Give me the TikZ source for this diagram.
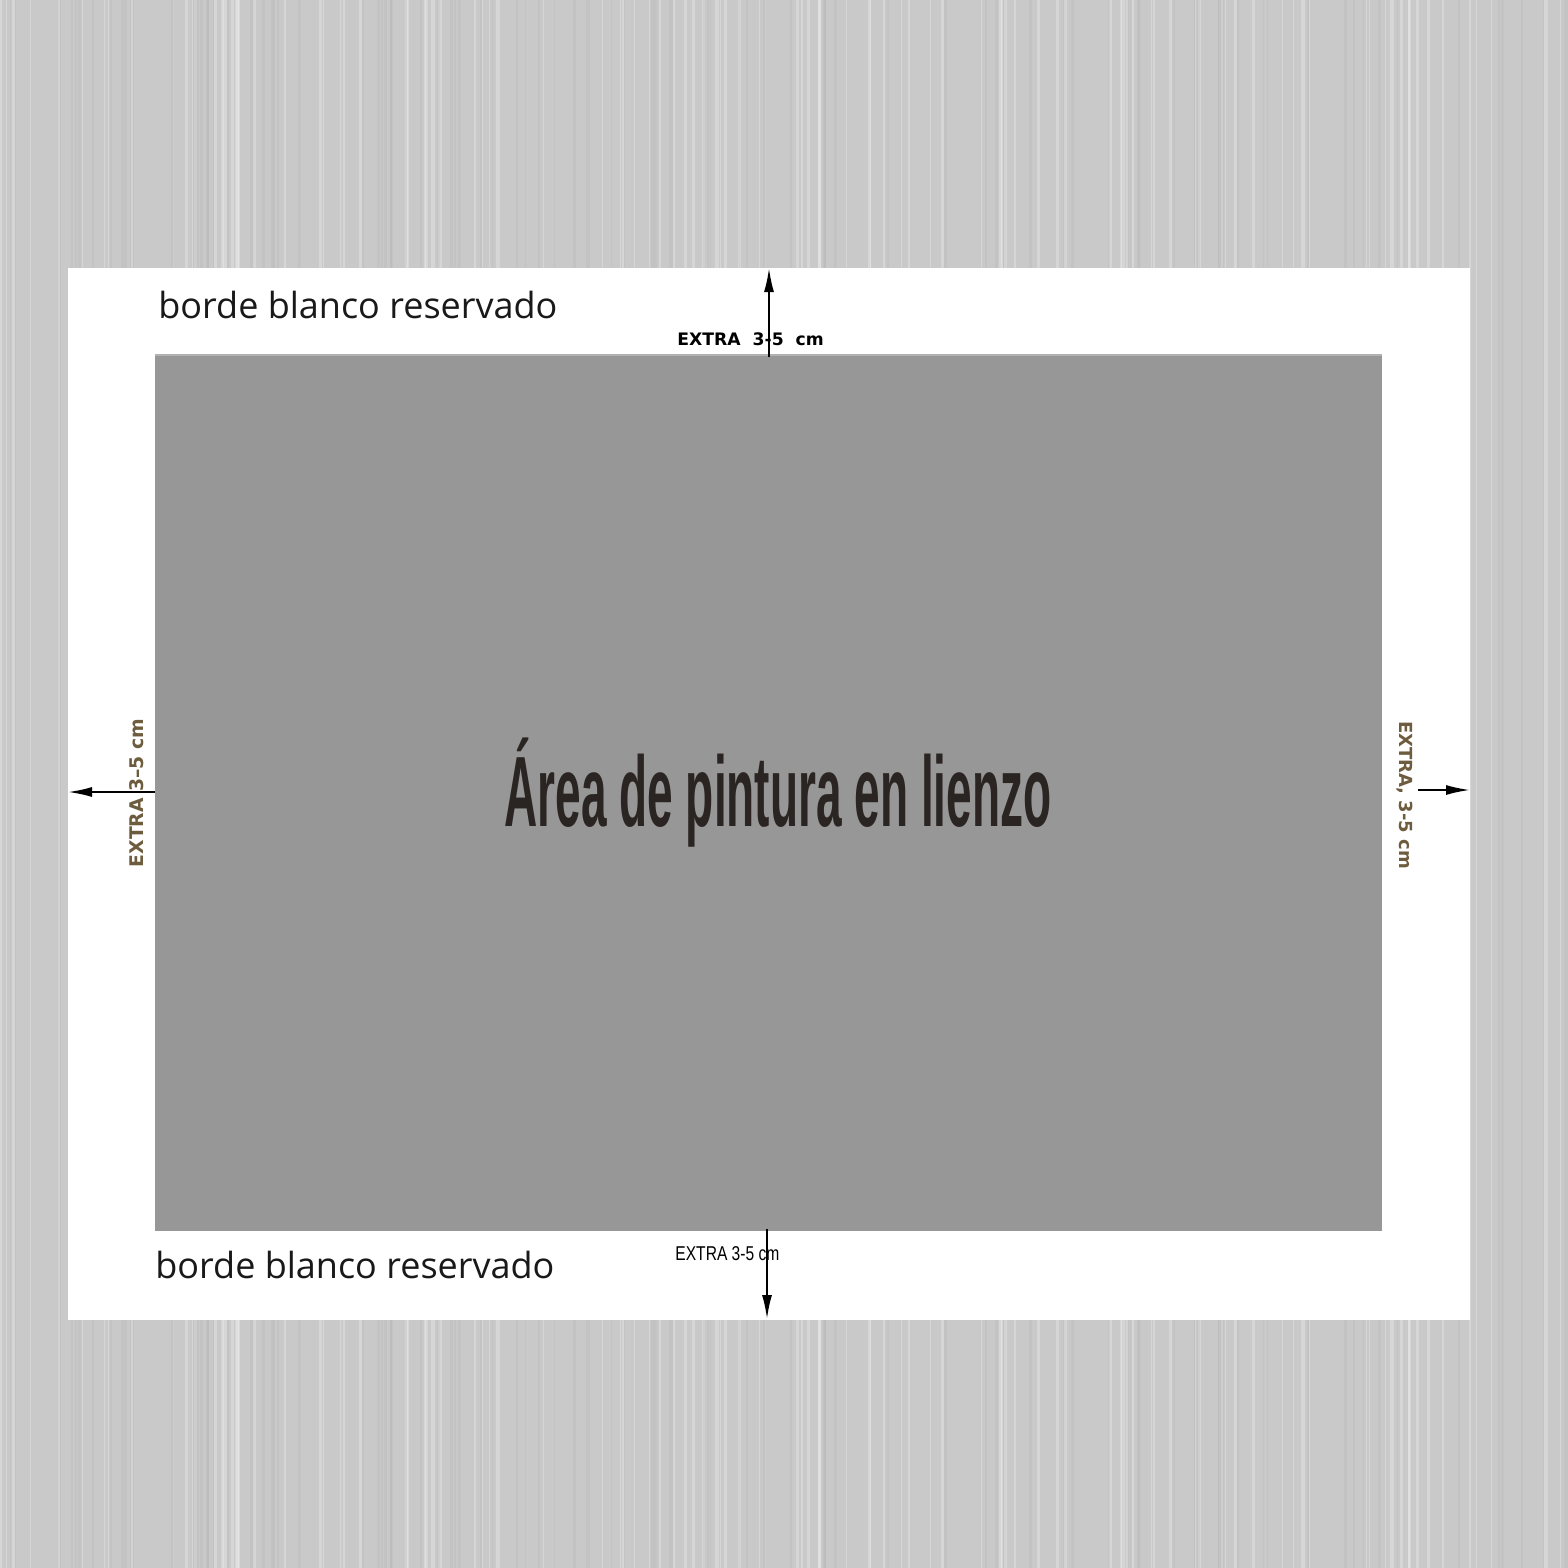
\documentclass[tikz,border=0pt]{standalone}
\usepackage{fontspec}
\setmainfont{Open Sans}
\newfontfamily\headfont{Liberation Sans}
\newfontfamily\djv{DejaVu Sans}
\usetikzlibrary{arrows.meta}
\definecolor{bgwood}{HTML}{C9C9C9}
\definecolor{paintgray}{HTML}{979797}
\definecolor{titleink}{HTML}{2A2522}
\definecolor{sidebrown}{HTML}{6E5C3E}
\tikzset{
  dimarrow/.style={draw=black, line width=1pt, -{Latex[length=12pt,width=5pt]}},
  bordertext/.style={font=\fontsize{18}{21}\selectfont, text=black!90, anchor=base west, inner sep=0pt},
  sidelabel/.style={font=\djv\bfseries\fontsize{9}{10}\selectfont, text=sidebrown, inner sep=0pt},
}
\begin{document}
\begin{tikzpicture}[x=0.5pt,y=-0.5pt]
\useasboundingbox (0,0) rectangle (1568,1568);
\fill[bgwood] (0,0) rectangle (1568,1568);
% wood streaks
\pgfmathsetseed{7}
\foreach \i in {1,...,220}{
  \pgfmathsetmacro{\xx}{rnd*1568}
  \pgfmathsetmacro{\gg}{rnd}
  \pgfmathsetmacro{\ww}{0.3+rnd*1.5}
  \ifdim\gg pt<0.5pt
    \draw[white, line width=\ww pt, opacity=0.25] (\xx,0) -- (\xx,1568);
  \else
    \draw[black!40, line width=\ww pt, opacity=0.12] (\xx,0) -- (\xx,1568);
  \fi
}
% white sheet
\fill[white] (68,268) rectangle (1470,1320);
% paint area
\fill[paintgray] (155,355) rectangle (1382,1231);
\draw[black!30, line width=0.6pt] (155,355) -- (1382,355);
% nodes
\node[font=\headfont\bfseries\fontsize{50}{56}\selectfont, text=titleink, inner sep=0pt] (title) at (778,793) {\scalebox{0.46}[1]{Área de pintura en lienzo}};
\node[bordertext] (topborder) at (158,318) {borde blanco reservado};
\node[bordertext] (botborder) at (155,1278) {borde blanco reservado};
\node[font=\djv\bfseries\fontsize{8.6}{10}\selectfont, inner sep=0pt, anchor=base west] (toplabel) at (677,345) {EXTRA\ \ 3-5\ \ cm};
\node[font=\headfont\fontsize{10}{12}\selectfont, inner sep=0pt, anchor=base west] (botlabel) at (675,1260) {\scalebox{0.78}[1]{EXTRA 3-5 cm}};
\node[sidelabel, rotate=90, font=\djv\bfseries\fontsize{9.4}{10}\selectfont] (leftlabel) at (137,793) {EXTRA 3–5 cm};
\node[sidelabel, rotate=-90] (rightlabel) at (1405,795) {EXTRA, 3-5 cm};
% arrow coordinates
\coordinate (topS) at (769,357);
\coordinate (topE) at (769,268);
\coordinate (botS) at (767,1229);
\coordinate (botE) at (767,1319);
\coordinate (leftS) at (155,792);
\coordinate (leftE) at (68,792);
\coordinate (rightS) at (1418,790);
\coordinate (rightE) at (1470,790);
\draw[dimarrow] (topS) -- (topE);
\draw[dimarrow] (botS) -- (botE);
\draw[dimarrow] (leftS) -- (leftE);
\draw[dimarrow] (rightS) -- (rightE);
\end{tikzpicture}
\end{document}
